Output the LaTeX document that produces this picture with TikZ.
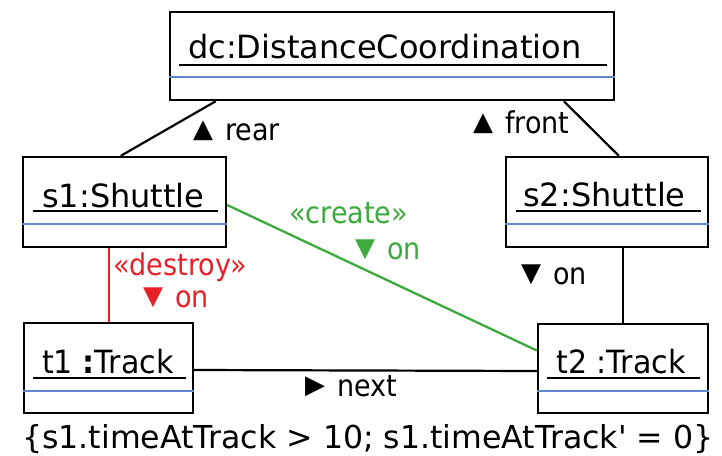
\documentclass[tikz,border=0pt]{standalone}
\usepackage{fontspec}
\setmainfont{DejaVu Sans}
\newfontfamily\condfont{DejaVu Sans}[FakeStretch=0.9]
\newfontfamily\trackface{DejaVu Sans}[FakeStretch=0.94]
\newfontfamily\plainface{DejaVu Sans}
\usetikzlibrary{calc}
\definecolor{sepblue}{RGB}{100,135,200}
\definecolor{createcol}{RGB}{60,170,60}
\definecolor{destroycol}{RGB}{232,32,40}
\newcommand{\namefont}{\fontsize{32}{38}\selectfont}
\newcommand{\trackfont}{\trackface\fontsize{32}{38}\selectfont}
\newcommand{\labfont}{\condfont\fontsize{30}{36}\selectfont}
% direction triangle set to the left of a role name
\newcommand{\dirmark}[1]{\llap{\raisebox{3pt}{\fontsize{26}{28}\selectfont #1}\hspace{12pt}}}

\begin{document}
\begin{tikzpicture}[x=1pt,y=-1pt,
  objbox/.style={draw, line width=2.4pt, inner sep=0pt, fill=white},
  objname/.style={anchor=base west, inner sep=0pt},
  uline/.style={line width=2pt},
  sep/.style={sepblue, line width=2pt},
  link/.style={line width=2.2pt},
  lbl/.style={anchor=base west, inner sep=0pt},
]
\useasboundingbox (0,0) rectangle (722,455);

% ---- object boxes ----
\node[objbox, minimum width=444, minimum height=88] (dc) at (392,56) {};
\node[objbox, minimum width=203, minimum height=90] (s1) at (124.5,202) {};
\node[objbox, minimum width=202, minimum height=90] (s2) at (607,202) {};
\node[objbox, minimum width=169, minimum height=90] (t1) at (108.5,368) {};
\node[objbox, minimum width=170, minimum height=89] (t2) at (623,368.5) {};

% attribute separators
\draw[sep] ([yshift=-66pt]dc.north west) -- ([yshift=-66pt]dc.north east);
\draw[sep] ([yshift=-68pt]s1.north west) -- ([yshift=-68pt]s1.north east);
\draw[sep] ([yshift=-68pt]s2.north west) -- ([yshift=-68pt]s2.north east);
\draw[sep] ([yshift=-69pt]t1.north west) -- ([yshift=-69pt]t1.north east);
\draw[sep] ([yshift=-68pt]t2.north west) -- ([yshift=-68pt]t2.north east);

% object names (underlined)
\node[objname] (dcname) at (188,58) {\namefont dc:DistanceCoordination};
\draw[uline] (179,65) -- (607,65);
\node[objname] (s1name) at (42,207) {\namefont s1:Shuttle};
\draw[uline] (33,211) -- (218,211);
\node[objname] (s2name) at (523,206) {\namefont s2:Shuttle};
\draw[uline] (516,211) -- (701,211);
\node[objname] (t1name) at (42,373) {\trackfont t1 \textbf{:}Track};
\draw[uline] (33,378) -- (186,378);
\node[objname] (t2name) at (556,373) {\trackfont t2 :Track};
\draw[uline] (547,378) -- (700,378);

% ---- links ----
\draw[link] ([xshift=47pt]dc.south west) -- ([xshift=99pt]s1.north west);
\draw[link] ([xshift=395pt]dc.south west) -- ([xshift=114pt]s2.north west);
\draw[link] ([xshift=16pt]s2.south) -- (t2.north);
\draw[destroycol, line width=1.5pt] ([xshift=87pt]s1.south west) coordinate (dtop) -- (dtop |- t1.north);
\draw[createcol, line width=2.3pt] ([yshift=-3pt]s1.east) -- ([yshift=18pt]t2.west);
\draw[link] ([yshift=-2pt]t1.east) -- ([yshift=-2.5pt]t2.west);

% ---- link labels ----
\node[lbl] (rearlbl) at (225,140) {\dirmark{▲}\labfont rear};
\node[lbl] (frontlbl) at (505,133) {\dirmark{▲}\labfont front};
\node[lbl] (s2on) at (553,284) {\dirmark{▼}\labfont on};
\node[lbl, destroycol] (destroylbl) at (113,275) {\labfont «destroy»};
\node[lbl, destroycol] (s1on) at (175,307) {\dirmark{▼}\labfont on};
\node[lbl, createcol] (createlbl) at (289,223) {\labfont «create»};
\node[lbl, createcol] (createon) at (387,259) {\dirmark{▼}\labfont on};
\node[lbl] (nextlbl) at (337,396) {\dirmark{▶}\labfont next};

% ---- constraint ----
\node[lbl] (constraint) at (22,448) {\plainface\fontsize{31.6}{36}\selectfont \{s1.timeAtTrack > 10; s1.timeAtTrack' = 0\}};
\end{tikzpicture}
\end{document}
